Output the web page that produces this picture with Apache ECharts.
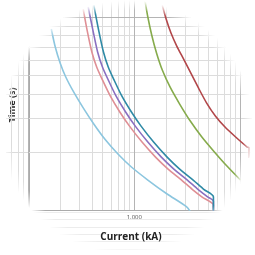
<!DOCTYPE html>
<html><head><meta charset="utf-8">
<script src="https://cdn.jsdelivr.net/npm/echarts@6/dist/echarts.min.js"></script>
<style>html,body{margin:0;padding:0;background:#fff}#c{width:255px;height:255px}</style>
</head><body><div id="c"></div>
<script>
// Axis values
const xMajor = [100, 1000, 10000];
const xMinor = [70, 80, 90, 200, 300, 400, 500, 600, 700, 800, 900, 2000, 3000, 4000, 5000, 6000, 7000, 8000, 9000];
const yMajor = [10];
const yMinor = [2, 3, 4, 5, 6, 7, 8, 9];
const xLabelValues = [1000];

// Curves (current, time)
const blueX = [165, 180, 200, 226, 268, 330, 415, 534, 701, 939, 1341, 2038, 3097, 3439];
const blueY = [8.67, 6.99, 5.78, 4.89, 4.09, 3.38, 2.79, 2.31, 1.95, 1.67, 1.43, 1.21, 1.04, 0.965];
const pinkX = [330, 359, 398, 442, 501, 593, 730, 901, 1182, 1585, 2081, 2790, 3513, 4329, 5566, 5566];
const pinkY = [11.0, 8.56, 6.59, 5.51, 4.72, 3.90, 3.22, 2.72, 2.25, 1.88, 1.63, 1.43, 1.28, 1.17, 1.06, 0.9];
const purpleX = [366, 407, 451, 501, 568, 672, 828, 1021, 1341, 1797, 2359, 3162, 3981, 4909, 5566, 5566];
const purpleY = [11.4, 8.56, 6.59, 5.51, 4.72, 3.90, 3.22, 2.72, 2.25, 1.88, 1.63, 1.43, 1.28, 1.17, 1.11, 0.9];
const tealX = [415, 461, 512, 568, 644, 762, 939, 1158, 1520, 2038, 2675, 3585, 4513, 5566, 5566];
const tealY = [11.54, 8.56, 6.59, 5.51, 4.72, 3.90, 3.22, 2.72, 2.25, 1.88, 1.63, 1.43, 1.28, 1.17, 0.9];
const greenX = [1233, 1259, 1341, 1458, 1619, 1835, 2170, 2675, 3368, 4329, 5683, 7460, 10000];
const greenY = [13.2, 12.25, 10.0, 8.07, 6.51, 5.31, 4.34, 3.54, 2.89, 2.39, 2.00, 1.69, 1.43];
const redX = [1835, 1995, 2216, 2512, 2908, 3439, 4066, 4807, 5803, 7153, 9006, 11580, 12070, 12070];
const redY = [11.54, 9.76, 8.26, 7.07, 6.06, 5.07, 4.24, 3.58, 3.07, 2.69, 2.39, 2.12, 2.10, 1.86];

// faint background rule lines under the axis area
const ghostRows = [0, 1, 2, 3, 4, 5];

const zip = (a, b) => a.map((v, i) => [v, b[i]]);
const fmt = v => String(Math.round(v)).replace(/\B(?=(\d{3})+(?!\d))/g, '.');

const chart = echarts.init(document.getElementById('c'), null, {renderer: 'canvas'});
const curve = (name, x, y, color) => ({
  type: 'line', name, data: zip(x, y), showSymbol: false, smooth: 0.25,
  lineStyle: {color, width: 1.6}, z: 5, clip: true
});
const gridLine = (arr, key, color) => arr.map(v => ({[key]: v, lineStyle: {color, width: 1, type: 'solid'}}));

chart.setOption({
  animation: false,
  backgroundColor: '#fff',
  grid: [
    {left: 0, right: 0, top: 0, bottom: 45},
    {left: 0, right: 0, top: 212, height: 37}
  ],
  xAxis: [{
    type: 'log', min: 61.8, max: 12850, gridIndex: 0,
    name: 'Current (kA)', nameLocation: 'middle', nameGap: 22,
    nameTextStyle: {fontFamily: 'Open Sans', fontWeight: 'bold', fontSize: 10, color: '#222', padding: [0, 0, 0, 4]},
    axisLine: {show: true, lineStyle: {color: '#aaa', width: 1}},
    axisTick: {show: false},
    splitLine: {show: false},
    axisLabel: {fontSize: 6, color: '#555', margin: 4, fontFamily: 'Open Sans',
      formatter: v => xLabelValues.some(t => Math.abs(t - v) < 1e-6) ? fmt(v) : ''}
  }, {
    type: 'value', gridIndex: 1, show: false, min: 0, max: 1
  }],
  yAxis: [{
    type: 'log', min: 1, max: 12.25, offset: -23, gridIndex: 0,
    name: 'Time (s)', nameLocation: 'middle', nameGap: 12,
    nameTextStyle: {fontFamily: 'Open Sans', fontWeight: 'bold', fontSize: 9, color: '#222'},
    axisLine: {show: true, lineStyle: {color: '#aaa', width: 1}},
    axisTick: {show: false}, axisLabel: {show: false}, splitLine: {show: false}
  }, {
    type: 'value', gridIndex: 1, min: 0, max: 5, interval: 1,
    axisLine: {show: false}, axisTick: {show: false}, axisLabel: {show: false},
    splitLine: {show: true, lineStyle: {color: '#ececec', width: 1}}
  }],
  series: [
    {type: 'line', data: [], z: 1, silent: true,
     markLine: {silent: true, symbol: 'none', label: {show: false}, animation: false,
       data: [].concat(gridLine(xMinor, 'xAxis', '#dcdcdc'), gridLine(yMinor, 'yAxis', '#dcdcdc'),
                       gridLine(xMajor, 'xAxis', '#b4b4b4'), gridLine(yMajor, 'yAxis', '#b4b4b4'))}},
    {type: 'line', xAxisIndex: 1, yAxisIndex: 1, data: ghostRows.map(r => [0, r]), showSymbol: false, lineStyle: {opacity: 0}, silent: true},
    curve('A', blueX, blueY, '#8cc6df'),
    curve('B', pinkX, pinkY, '#df8f95'),
    curve('C', purpleX, purpleY, '#8a6fc0'),
    curve('D', tealX, tealY, '#2f8aa6'),
    curve('E', greenX, greenY, '#86ab4c'),
    curve('F', redX, redY, '#b2474a')
  ],
  graphic: [
    {type: 'ring', z: 100, silent: true, shape: {cx: 127, cy: 127, r: 127, r0: 115},
     style: {fill: {type: 'radial', x: 127, y: 127, r: 127, global: true,
       colorStops: [{offset: 0.92, color: 'rgba(255,255,255,0)'}, {offset: 1, color: 'rgba(255,255,255,1)'}]}}},
    {type: 'ring', z: 100, silent: true, shape: {cx: 127, cy: 127, r: 260, r0: 126.5}, style: {fill: '#fff'}}
  ]
});
</script></body></html>
